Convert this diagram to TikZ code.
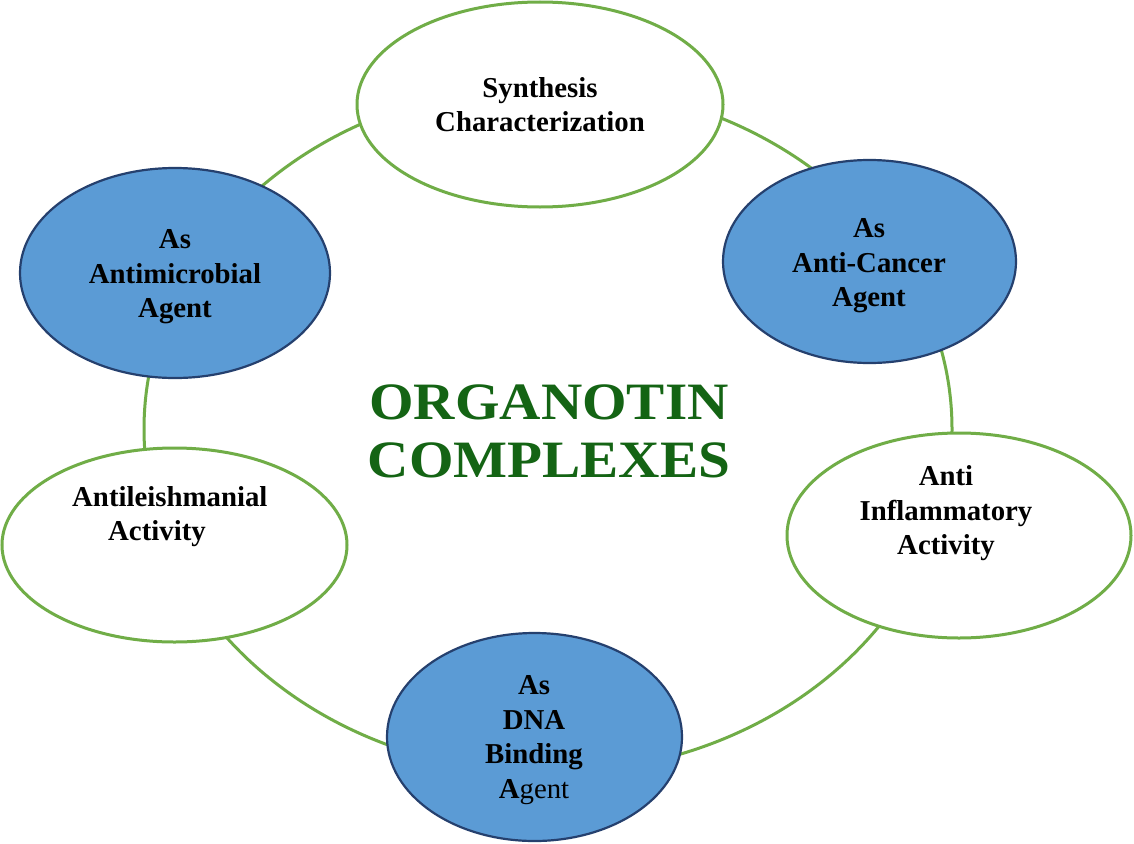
\documentclass[tikz,border=0pt]{standalone}
\usepackage{fontspec}
\setmainfont{Liberation Serif}
\newfontfamily\titlefont[FakeStretch=1.09]{Liberation Serif}
\usetikzlibrary{shapes.geometric}
\definecolor{ringgreen}{RGB}{112,173,71}
\definecolor{boxblue}{RGB}{91,155,213}
\definecolor{borderblue}{RGB}{37,64,110}
\definecolor{titlegreen}{RGB}{20,100,20}
\begin{document}
\begin{tikzpicture}[x=1pt,y=-1pt,
  whiteoval/.style={ellipse, draw=ringgreen, fill=white, line width=3pt, inner sep=0pt},
  blueoval/.style={ellipse, draw=borderblue, fill=boxblue, line width=2.2pt, inner sep=0pt},
  lbl/.style={font=\fontsize{28.8}{34.5}\selectfont\bfseries, align=center, inner sep=0pt, text=black},
  ring/.style={draw=ringgreen, line width=3pt}
]
\useasboundingbox[fill=white] (0,0) rectangle (1134,843);
\coordinate (ringc) at (548,429);
\draw[ring] (ringc) ellipse [x radius=404, y radius=344];

\node[whiteoval, minimum width=366pt, minimum height=205pt] (synth) at (540,104.5) {};
\node[blueoval, minimum width=293pt, minimum height=203pt] (cancer) at (869.5,261.5) {};
\node[whiteoval, minimum width=344pt, minimum height=205pt] (inflam) at (959,535.5) {};
\node[blueoval, minimum width=295pt, minimum height=208pt] (dna) at (534.5,737) {};
\node[whiteoval, minimum width=345pt, minimum height=194pt] (leish) at (174.5,545) {};
\node[blueoval, minimum width=310pt, minimum height=210pt] (microbe) at (175,273) {};

\node[lbl] (synthT) at (540,104.5) {Synthesis\\Characterization};
\node[lbl] (cancerT) at (869,266) {As\\Anti-Cancer\\Agent};
\node[lbl] (inflamT) at (946,513.5) {Anti\\Inflammatory\\Activity};
\node[lbl] (dnaT) at (534,740) {As\\DNA\\Binding\\A{\mdseries gent}};
\node[lbl, align=left, anchor=west] (leishT) at (72,516.5) {Antileishmanial\\\hspace*{36pt}Activity};
\node[lbl] (microbeT) at (175,277) {As\\Antimicrobial\\Agent};

\node[font=\titlefont\bfseries\fontsize{52.5}{58}\selectfont, text=titlegreen, align=center, inner sep=0pt] (title) at (549,431) {ORGANOTIN\\COMPLEXES};
\end{tikzpicture}
\end{document}
